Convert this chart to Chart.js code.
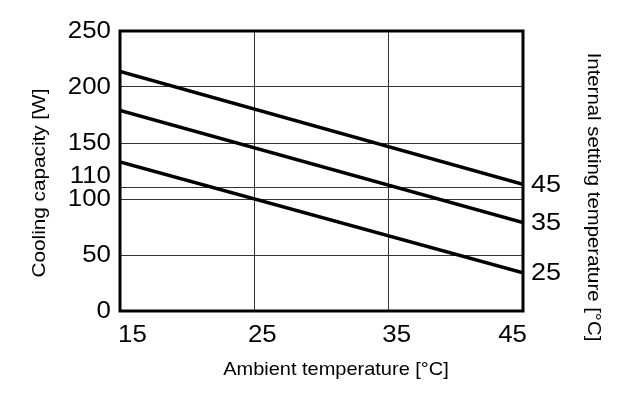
<!DOCTYPE html>
<html>
  <head>
    <style>
      html, body { margin: 0; background: #ffffff; }
      #chart-container { width: 644px; height: 407px; position: relative; }
    </style>
  </head>
  <body>
    <div id="chart-container">
      <canvas id="chart" width="644" height="407"></canvas>
    </div>

    <script src="https://cdn.jsdelivr.net/npm/chart.js"></script>
    <script>
      // values
      const ambient = [15, 45];
      const set45 = [214, 113];
      const set35 = [179, 79];
      const set25 = [133, 34];
      const xTicks = [15, 25, 35, 45];
      const yTicks = [0, 50, 100, 110, 150, 200, 250];
      const seriesNames = ["45", "35", "25"];

      const FONT = '"Liberation Sans", Arial, sans-serif';

      function points(values) {
        return values.map((v, i) => ({ x: ambient[i], y: v }));
      }

      // reference text is drawn a bit wide, so stretch it horizontally
      function drawText(ctx, text, x, y, opts) {
        ctx.save();
        ctx.translate(x, y);
        if (opts.rotate) ctx.rotate(opts.rotate);
        ctx.scale(opts.stretch || 1.1, 1);
        ctx.font = opts.size + "px " + FONT;
        ctx.fillStyle = "#000";
        ctx.textAlign = opts.align || "center";
        ctx.textBaseline = "middle";
        ctx.fillText(text, 0, 0);
        ctx.restore();
      }

      const textPlugin = {
        id: "frameAndText",
        afterDraw(chart) {
          const ctx = chart.ctx;
          const area = chart.chartArea;
          const x = chart.scales.x;
          const y = chart.scales.y;

          // heavy frame
          ctx.save();
          ctx.strokeStyle = "#000";
          ctx.lineWidth = 3;
          ctx.strokeRect(area.left, area.top, area.right - area.left, area.bottom - area.top);
          ctx.restore();

          // y tick labels (110 is nudged up so it clears 100)
          yTicks.forEach(function (v) {
            let py = y.getPixelForValue(v) + 1;
            if (v === 110) py -= 12;
            drawText(ctx, String(v), area.left - 9, py, { size: 23.5, align: "right" });
          });

          // x tick labels
          xTicks.forEach(function (v, i) {
            const px = x.getPixelForValue(v);
            if (i === 0) drawText(ctx, String(v), px - 2, 336, { size: 23.5, align: "left" });
            else if (i === xTicks.length - 1) drawText(ctx, String(v), px + 4, 336, { size: 23.5, align: "right" });
            else drawText(ctx, String(v), px + 8, 336, { size: 23.5 });
          });

          // series labels at the right end of each line
          chart.data.datasets.forEach(function (ds, i) {
            const last = ds.data[ds.data.length - 1];
            drawText(ctx, seriesNames[i], area.right + 8, y.getPixelForValue(last.y) + 1, { size: 23.5, align: "left", stretch: 1.15 });
          });

          // axis titles
          drawText(ctx, "Ambient temperature [°C]", 336, 370, { size: 18.5, stretch: 1.08 });
          drawText(ctx, "Cooling capacity [W]", 40, 183, { size: 18.5, stretch: 1.12, rotate: -Math.PI / 2 });
          drawText(ctx, "Internal setting temperature [°C]", 593, 197, { size: 18.5, stretch: 1.1, rotate: Math.PI / 2 });
        }
      };

      function lineSet(label, values) {
        return {
          label: label,
          data: points(values),
          borderColor: "#000",
          borderWidth: 3.5,
          pointRadius: 0,
          fill: false,
          tension: 0
        };
      }

      new Chart(document.getElementById("chart"), {
        type: "line",
        data: {
          datasets: [
            lineSet("45", set45),
            lineSet("35", set35),
            lineSet("25", set25)
          ]
        },
        options: {
          responsive: false,
          animation: false,
          layout: { padding: { left: 120, right: 121, top: 31, bottom: 96 } },
          plugins: { legend: { display: false }, tooltip: { enabled: false } },
          scales: {
            x: {
              type: "linear",
              min: 15,
              max: 45,
              afterBuildTicks(scale) { scale.ticks = xTicks.map(v => ({ value: v })); },
              afterFit(scale) { scale.height = 0; },
              ticks: { display: false },
              border: { display: false },
              grid: { color: "#333", lineWidth: 1, drawTicks: false }
            },
            y: {
              min: 0,
              max: 250,
              afterBuildTicks(scale) { scale.ticks = yTicks.map(v => ({ value: v })); },
              afterFit(scale) { scale.width = 0; },
              ticks: { display: false },
              border: { display: false },
              grid: { color: "#333", lineWidth: 1, drawTicks: false }
            }
          }
        },
        plugins: [textPlugin]
      });
    </script>
  </body>
</html>
